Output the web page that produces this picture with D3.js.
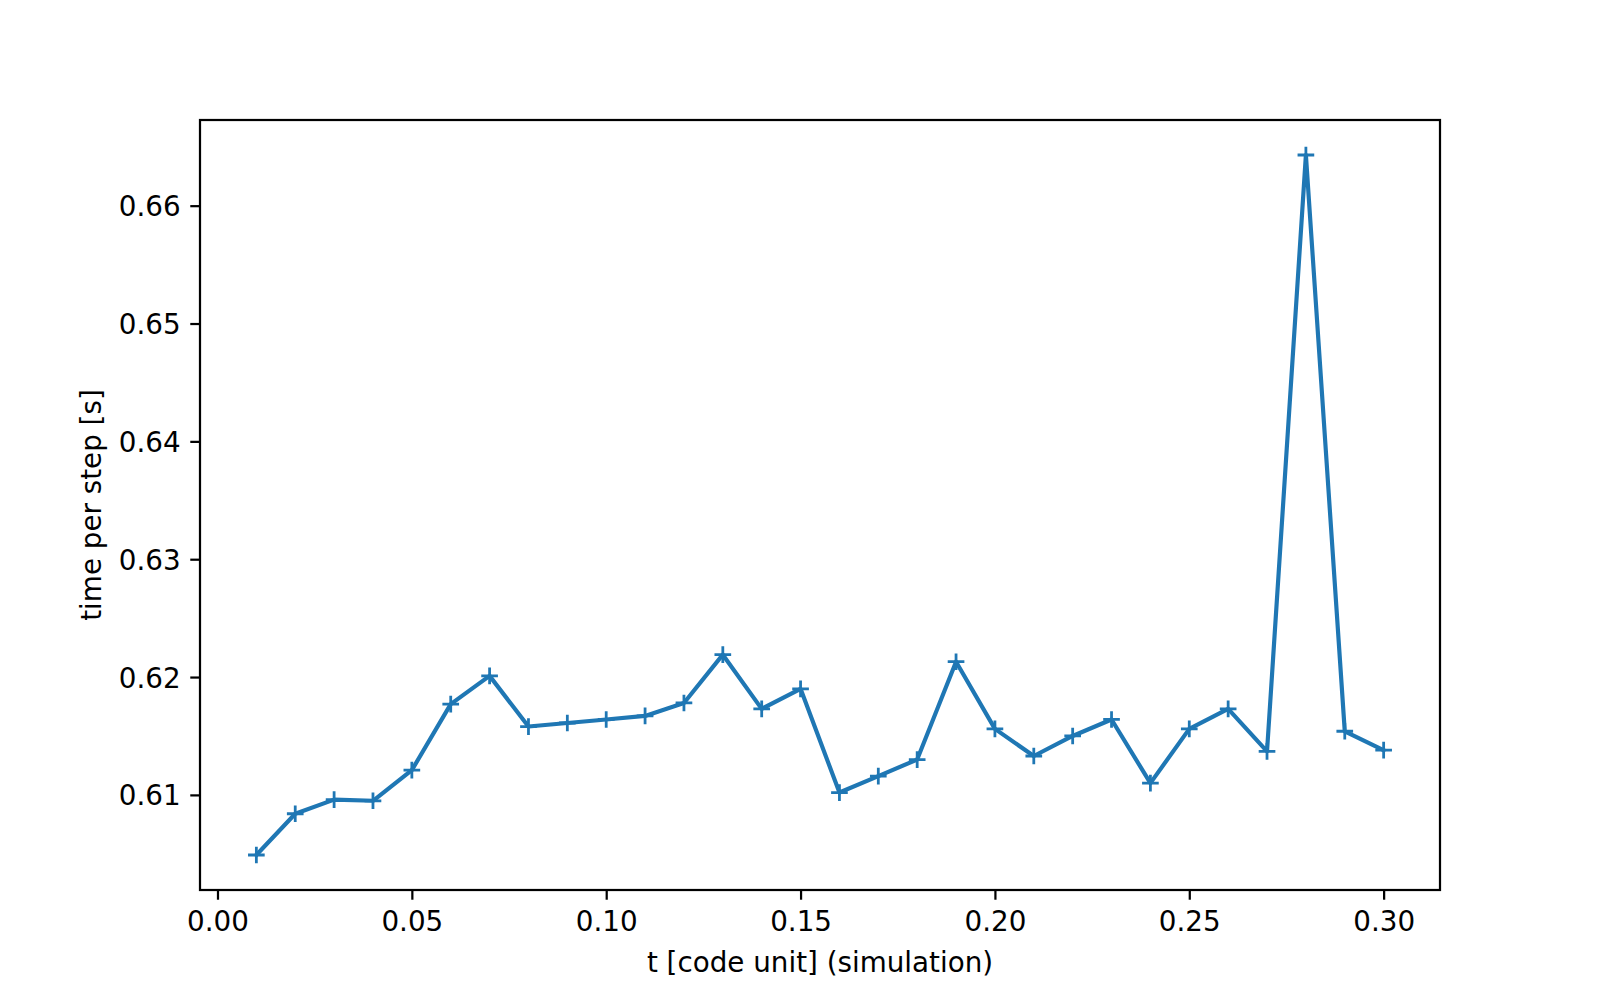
<!DOCTYPE html>
<html>
<head>
<meta charset="utf-8">
<script src="https://cdn.jsdelivr.net/npm/d3@7"></script>
<style>
  html, body { margin: 0; padding: 0; background: #ffffff; }
  svg { display: block; }
  text { font-family: "DejaVu Sans", sans-serif; fill: #000; }
</style>
</head>
<body>
<script>
// ---- data ----
const tValues = [0.01, 0.02, 0.03, 0.04, 0.05, 0.06, 0.07, 0.08, 0.09, 0.10,
                 0.11, 0.12, 0.13, 0.14, 0.15, 0.16, 0.17, 0.18, 0.19, 0.20,
                 0.21, 0.22, 0.23, 0.24, 0.25, 0.26, 0.27, 0.28, 0.29, 0.30];
const timePerStep = [0.6049, 0.6084, 0.6096, 0.6095, 0.6121, 0.6177, 0.6201, 0.6158, 0.6161, 0.6164,
                     0.6167, 0.6178, 0.6219, 0.6173, 0.6190, 0.6102, 0.6116, 0.6130, 0.6213, 0.6156,
                     0.6133, 0.6150, 0.6164, 0.6110, 0.6156, 0.6173, 0.6137, 0.6643, 0.6154, 0.6138];
const xTicks = [0.00, 0.05, 0.10, 0.15, 0.20, 0.25, 0.30];
const yTicks = [0.61, 0.62, 0.63, 0.64, 0.65, 0.66];
const xLabel = "t [code unit] (simulation)";
const yLabel = "time per step [s]";

// ---- layout (matplotlib 8x5in @200dpi) ----
const W = 1600, H = 1000;
const mLeft = 200, mRight = 1440, mTop = 120, mBottom = 890;
const pt = 200 / 72;
const fontPx = 10 * pt;
const tickLen = 3.5 * pt, tickPad = 3.5 * pt;
const spineW = 0.8 * pt;
const color = "#1f77b4";

function padded(ext) {
  const r = ext[1] - ext[0];
  return [ext[0] - 0.05 * r, ext[1] + 0.05 * r];
}

const x = d3.scaleLinear().domain(padded(d3.extent(tValues))).range([mLeft, mRight]);
const y = d3.scaleLinear().domain(padded(d3.extent(timePerStep))).range([mBottom, mTop]);

const svg = d3.select("body").append("svg")
  .attr("width", W).attr("height", H);
svg.append("rect").attr("width", W).attr("height", H).attr("fill", "#fff");

const data = tValues.map((t, i) => ({ t, v: timePerStep[i] }));

svg.append("clipPath").attr("id", "clip")
  .append("rect").attr("x", mLeft).attr("y", mTop)
  .attr("width", mRight - mLeft).attr("height", mBottom - mTop);

const plot = svg.append("g").attr("clip-path", "url(#clip)");

plot.append("path")
  .datum(data)
  .attr("fill", "none")
  .attr("stroke", color)
  .attr("stroke-width", 1.5 * pt)
  .attr("stroke-linejoin", "round")
  .attr("stroke-linecap", "square")
  .attr("d", d3.line().x(d => x(d.t)).y(d => y(d.v)));

const ms = 6 * pt / 2;
svg.append("g").selectAll("path.m")
  .data(data)
  .join("path")
  .attr("class", "m")
  .attr("fill", "none")
  .attr("stroke", color)
  .attr("stroke-width", 1 * pt)
  .attr("d", d => {
    const cx = x(d.t), cy = y(d.v);
    return `M${cx - ms},${cy}H${cx + ms}M${cx},${cy - ms}V${cy + ms}`;
  });

// axes
const xAxis = d3.axisBottom(x).tickValues(xTicks).tickFormat(d3.format(".2f"))
  .tickSize(tickLen).tickPadding(tickPad);
const yAxis = d3.axisLeft(y).tickValues(yTicks).tickFormat(d3.format(".2f"))
  .tickSize(tickLen).tickPadding(tickPad);

const gx = svg.append("g").attr("transform", `translate(0,${mBottom})`).call(xAxis);
const gy = svg.append("g").attr("transform", `translate(${mLeft},0)`).call(yAxis);

[gx, gy].forEach(g => {
  g.select(".domain").remove();
  g.selectAll(".tick line").attr("stroke", "#000").attr("stroke-width", spineW);
  g.selectAll(".tick text")
    .attr("fill", "#000")
    .style("font-family", "'DejaVu Sans', sans-serif")
    .style("font-size", fontPx + "px");
});
gx.selectAll(".tick text").attr("y", tickLen + tickPad).attr("dy", "0.76em");
gy.selectAll(".tick text").attr("x", -(tickLen + tickPad)).attr("dy", "0.36em");

// spines
svg.append("rect")
  .attr("x", mLeft).attr("y", mTop)
  .attr("width", mRight - mLeft).attr("height", mBottom - mTop)
  .attr("fill", "none").attr("stroke", "#000").attr("stroke-width", spineW);

// axis labels
svg.append("text")
  .attr("x", (mLeft + mRight) / 2)
  .attr("y", 971.5)
  .attr("text-anchor", "middle")
  .style("font-size", fontPx + "px")
  .text(xLabel);

svg.append("text")
  .attr("transform", `translate(101,${(mTop + mBottom) / 2}) rotate(-90)`)
  .attr("text-anchor", "middle")
  .style("font-size", fontPx + "px")
  .text(yLabel);
</script>
</body>
</html>
